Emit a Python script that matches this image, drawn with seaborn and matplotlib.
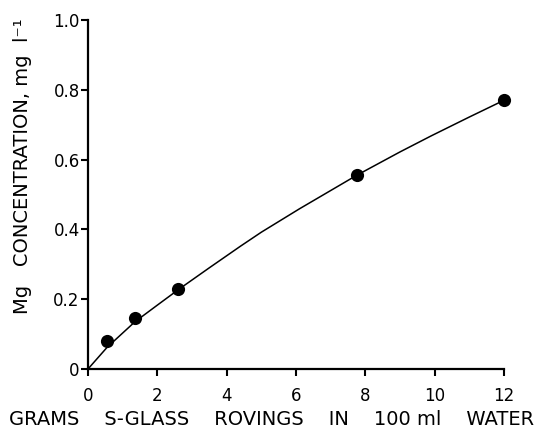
import matplotlib
matplotlib.use("Agg")
import matplotlib.pyplot as plt
import seaborn as sns
import pandas as pd

# Measured data points
grams = [0.55, 1.35, 2.6, 7.75, 12.0]
mg_conc = [0.08, 0.145, 0.23, 0.555, 0.77]

# Hand-drawn fitted curve
curve_x = [0.0, 0.55, 1.35, 2.0, 2.6, 3.5, 4.4, 5.0, 6.1, 7.75, 9.0, 9.9, 11.0, 12.0]
curve_y = [0.0, 0.062, 0.135, 0.183, 0.227, 0.29, 0.352, 0.392, 0.459, 0.555, 0.622, 0.668, 0.722, 0.77]

x_ticks = [0, 2, 4, 6, 8, 10, 12]
y_ticks = [0, 0.2, 0.4, 0.6, 0.8, 1.0]
y_ticklabels = ["0", "0.2", "0.4", "0.6", "0.8", "1.0"]

pts = pd.DataFrame({"x": grams, "y": mg_conc})
crv = pd.DataFrame({"x": curve_x, "y": curve_y})

sns.set_style("ticks")
plt.rcParams["font.family"] = ["DejaVu Sans"]
plt.rcParams["text.color"] = "black"
plt.rcParams["axes.labelcolor"] = "black"

fig = plt.figure(figsize=(5.41, 4.37), dpi=100)
ax = fig.add_axes([88 / 541, 1 - 369 / 437, (504 - 88) / 541, (369 - 20) / 437])

sns.lineplot(data=crv, x="x", y="y", ax=ax, color="black", linewidth=1.1,
             sort=False, estimator=None)
for l in ax.lines:
    l.set_solid_joinstyle("round")
sns.scatterplot(data=pts, x="x", y="y", ax=ax, color="black", s=90,
                edgecolor="black", linewidth=0, clip_on=False, zorder=5)

ax.set_xlim(0, 12)
ax.set_ylim(0, 1.0)
ax.set_xticks(x_ticks)
ax.set_xticklabels([str(t) for t in x_ticks])
ax.set_yticks(y_ticks)
ax.set_yticklabels(y_ticklabels)

for s in ["top", "right"]:
    ax.spines[s].set_visible(False)
for s in ["left", "bottom"]:
    ax.spines[s].set_linewidth(1.6)
    ax.spines[s].set_color("black")

ax.tick_params(axis="both", direction="out", length=5, width=1.5,
               labelsize=12, colors="black")
ax.tick_params(axis="y", pad=1)
ax.tick_params(axis="x", pad=8)

ax.set_xlabel("GRAMS    S-GLASS    ROVINGS    IN    100 ml    WATER",
              fontsize=14, color="black")
ax.xaxis.set_label_coords(0.442, -0.118)
ax.set_ylabel("Mg   CONCENTRATION, mg  l⁻¹", fontsize=14, color="black")
ax.yaxis.set_label_coords(-0.135, 0.58)

fig.savefig("out.png", dpi=100, facecolor="white")
